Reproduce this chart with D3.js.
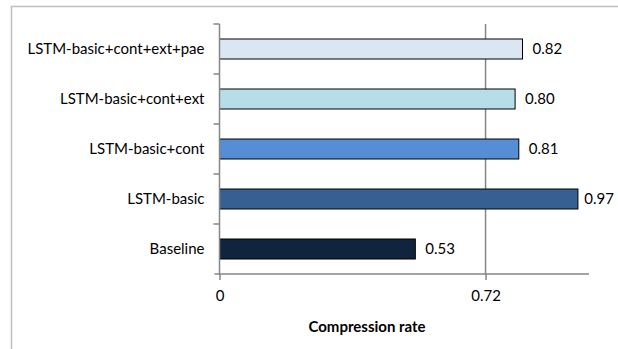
<!DOCTYPE html>
<html>
<head>
<meta charset="utf-8">
<script src="https://cdn.jsdelivr.net/npm/d3@7"></script>
<style>
  html, body { margin: 0; padding: 0; background: #fff; }
  svg { display: block; }
  text { font-family: Lato, "Open Sans", sans-serif; fill: #000; }
</style>
</head>
<body>
<svg id="chart" width="618" height="349"></svg>
<script>
const categories = ["LSTM-basic+cont+ext+pae", "LSTM-basic+cont+ext", "LSTM-basic+cont", "LSTM-basic", "Baseline"];
const values = [0.82, 0.80, 0.81, 0.97, 0.53];
const valueLabels = ["0.82", "0.80", "0.81", "0.97", "0.53"];
const barColors = ["#dce6f2", "#b7dde8", "#558ed5", "#376092", "#10243e"];
const xTicks = [0, 0.72];
const xTickLabels = ["0", "0.72"];
const xMax = 1.0;
const xTitle = "Compression rate";

const svg = d3.select("#chart");
const W = 618, H = 349;
const plot = { left: 219.5, right: 589, top: 24, bottom: 274 };

// outer chart border
svg.append("rect")
  .attr("x", 11.5).attr("y", 6.5)
  .attr("width", W + 10).attr("height", H + 10)
  .attr("fill", "none").attr("stroke", "#bfbfbf").attr("stroke-width", 1.5);

const x = d3.scaleLinear().domain([0, xMax]).range([plot.left, plot.right]);
const y = d3.scaleBand().domain(categories).range([plot.top, plot.bottom]).paddingInner(0.6).paddingOuter(0.3);
const yBand = d3.scaleBand().domain(categories).range([plot.top, plot.bottom]);

const axisColor = "#868686";

// gridlines (non-zero ticks)
svg.append("g").selectAll("line")
  .data(xTicks.filter(t => t !== 0))
  .join("line")
  .attr("x1", d => x(d)).attr("x2", d => x(d))
  .attr("y1", plot.top).attr("y2", plot.bottom)
  .attr("stroke", axisColor).attr("stroke-width", 1.5);

// bars
svg.append("g").selectAll("rect")
  .data(categories)
  .join("rect")
  .attr("x", x(0))
  .attr("y", d => y(d))
  .attr("width", (d, i) => x(values[i]) - x(0))
  .attr("height", y.bandwidth())
  .attr("fill", (d, i) => barColors[i])
  .attr("stroke", "#000").attr("stroke-width", 1);

// x axis
const xAxis = d3.axisBottom(x).tickValues(xTicks)
  .tickFormat((d, i) => xTickLabels[i]).tickSize(6).tickPadding(10);
const gx = svg.append("g").attr("transform", `translate(0,${plot.bottom})`).call(xAxis);
gx.select(".domain").attr("d", `M${plot.left - 5},0H${plot.right}`).attr("stroke", axisColor).attr("stroke-width", 1.5);
gx.selectAll(".tick line").attr("stroke", axisColor).attr("stroke-width", 1.5);
gx.selectAll(".tick text").attr("font-family", "Lato, sans-serif").attr("font-size", 15).attr("fill", "#000");

// y axis
const yAxis = d3.axisLeft(yBand).tickSize(0).tickPadding(15);
const gy = svg.append("g").attr("transform", `translate(${plot.left},0)`).call(yAxis);
gy.select(".domain").attr("d", `M0,${plot.top}V${plot.bottom}`).attr("stroke", axisColor).attr("stroke-width", 1.5);
gy.selectAll(".tick text").attr("font-family", "Lato, sans-serif").attr("font-size", 15).attr("fill", "#000");
// category separator ticks
svg.append("g").selectAll("line")
  .data(categories)
  .join("line")
  .attr("x1", plot.left - 6).attr("x2", plot.left)
  .attr("y1", d => yBand(d)).attr("y2", d => yBand(d))
  .attr("stroke", axisColor).attr("stroke-width", 1.5);

// value labels
svg.append("g").selectAll("text")
  .data(categories)
  .join("text")
  .attr("x", (d, i) => x(values[i]) + 10)
  .attr("y", d => y(d) + y.bandwidth() / 2)
  .attr("dy", "0.35em")
  .attr("font-size", 15)
  .text((d, i) => valueLabels[i])
  .each(function () {
    const w = this.getComputedTextLength();
    const xx = +this.getAttribute("x");
    if (xx + w > W - 4) this.setAttribute("x", W - 4 - w);
  });

// x title
svg.append("text")
  .attr("x", 367).attr("y", 327).attr("dy", "0.35em")
  .attr("text-anchor", "middle")
  .attr("font-size", 15).attr("font-weight", "bold")
  .text(xTitle);
</script>
</body>
</html>
